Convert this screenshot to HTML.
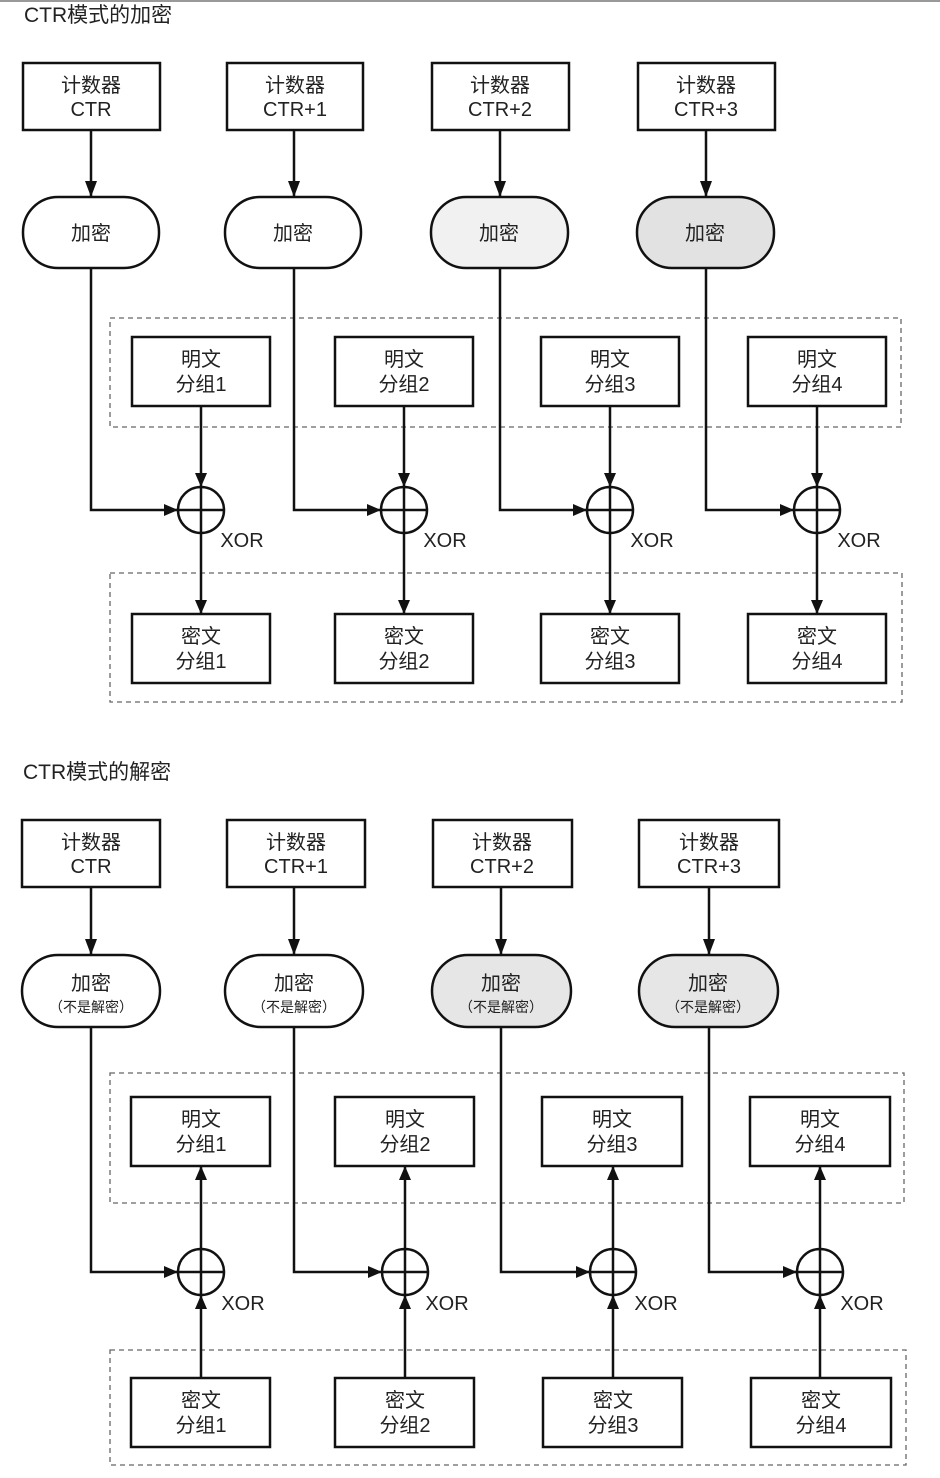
<!DOCTYPE html>
<html><head><meta charset="utf-8"><style>
html,body{margin:0;padding:0;background:#fff;}
svg{display:block;}
text{font-family:"Liberation Sans","Noto Sans CJK SC",sans-serif;fill:#222;}
</style></head><body>
<svg width="940" height="1478" viewBox="0 0 940 1478" xmlns="http://www.w3.org/2000/svg">
<defs>
<marker id="a" markerWidth="14" markerHeight="12" refX="13" refY="6" orient="auto" markerUnits="userSpaceOnUse">
<path d="M0,0 L14,6 L0,12 Z" fill="#111"/></marker>
<marker id="b" markerWidth="16" markerHeight="12" refX="15" refY="6" orient="auto" markerUnits="userSpaceOnUse">
<path d="M0,0 L16,6 L0,12 Z" fill="#111"/></marker>
</defs>
<rect x="0" y="0" width="940" height="2" fill="#999"/>
<g stroke="#111" stroke-width="2.5" fill="none">
<rect x="23" y="63" width="137" height="67"/>
<rect x="227" y="63" width="136" height="67"/>
<rect x="432" y="63" width="137" height="67"/>
<rect x="638" y="63" width="137" height="67"/>
<rect x="23" y="197" width="136" height="71" rx="35" fill="#fff"/>
<rect x="225" y="197" width="136" height="71" rx="35" fill="#fff"/>
<rect x="431" y="197" width="137" height="71" rx="35" fill="#f1f1f1"/>
<rect x="637" y="197" width="137" height="71" rx="35" fill="#e2e2e2"/>
<path d="M91,130 V196" marker-end="url(#b)"/>
<path d="M294,130 V196" marker-end="url(#b)"/>
<path d="M500,130 V196" marker-end="url(#b)"/>
<path d="M706,130 V196" marker-end="url(#b)"/>
<rect x="110" y="318" width="791" height="109" stroke="#666" stroke-width="1.3" stroke-dasharray="5,4"/>
<rect x="110" y="573" width="792" height="129" stroke="#666" stroke-width="1.3" stroke-dasharray="5,4"/>
<rect x="132" y="337" width="138" height="69" fill="#fff"/>
<rect x="335" y="337" width="138" height="69" fill="#fff"/>
<rect x="541" y="337" width="138" height="69" fill="#fff"/>
<rect x="748" y="337" width="138" height="69" fill="#fff"/>
<rect x="132" y="614" width="138" height="69"/>
<rect x="335" y="614" width="138" height="69"/>
<rect x="541" y="614" width="138" height="69"/>
<rect x="748" y="614" width="138" height="69"/>
<path d="M91,268 V510 H177" marker-end="url(#a)"/>
<path d="M294,268 V510 H380" marker-end="url(#a)"/>
<path d="M500,268 V510 H586" marker-end="url(#a)"/>
<path d="M706,268 V510 H793" marker-end="url(#a)"/>
<path d="M201,406 V486" marker-end="url(#a)"/>
<path d="M404,406 V486" marker-end="url(#a)"/>
<path d="M610,406 V486" marker-end="url(#a)"/>
<path d="M817,406 V486" marker-end="url(#a)"/>
<path d="M201,533 V613" marker-end="url(#a)"/>
<path d="M404,533 V613" marker-end="url(#a)"/>
<path d="M610,533 V613" marker-end="url(#a)"/>
<path d="M817,533 V613" marker-end="url(#a)"/>
<circle cx="201" cy="510" r="23"/><path d="M178,510 H224 M201,487 V533"/>
<circle cx="404" cy="510" r="23"/><path d="M381,510 H427 M404,487 V533"/>
<circle cx="610" cy="510" r="23"/><path d="M587,510 H633 M610,487 V533"/>
<circle cx="817" cy="510" r="23"/><path d="M794,510 H840 M817,487 V533"/>
<rect x="22" y="820" width="138" height="67"/>
<rect x="227" y="820" width="138" height="67"/>
<rect x="433" y="820" width="139" height="67"/>
<rect x="639" y="820" width="140" height="67"/>
<rect x="22" y="955" width="138" height="72" rx="36" fill="#fff"/>
<rect x="225" y="955" width="138" height="72" rx="36" fill="#fff"/>
<rect x="432" y="955" width="139" height="72" rx="36" fill="#e6e6e6"/>
<rect x="639" y="955" width="139" height="72" rx="36" fill="#e6e6e6"/>
<path d="M91,887 V954" marker-end="url(#b)"/>
<path d="M294,887 V954" marker-end="url(#b)"/>
<path d="M501,887 V954" marker-end="url(#b)"/>
<path d="M709,887 V954" marker-end="url(#b)"/>
<rect x="110" y="1073" width="794" height="130" stroke="#666" stroke-width="1.3" stroke-dasharray="5,4"/>
<rect x="110" y="1350" width="796" height="115" stroke="#666" stroke-width="1.3" stroke-dasharray="5,4"/>
<rect x="131" y="1097" width="139" height="69" fill="#fff"/>
<rect x="335" y="1097" width="139" height="69" fill="#fff"/>
<rect x="542" y="1097" width="140" height="69" fill="#fff"/>
<rect x="750" y="1097" width="140" height="69" fill="#fff"/>
<rect x="131" y="1378" width="139" height="69"/>
<rect x="335" y="1378" width="139" height="69"/>
<rect x="543" y="1378" width="139" height="69"/>
<rect x="751" y="1378" width="140" height="69"/>
<path d="M91,1027 V1272 H177" marker-end="url(#a)"/>
<path d="M294,1027 V1272 H381" marker-end="url(#a)"/>
<path d="M501,1027 V1272 H589" marker-end="url(#a)"/>
<path d="M709,1027 V1272 H796" marker-end="url(#a)"/>
<path d="M201,1249 V1167" marker-end="url(#a)"/>
<path d="M405,1249 V1167" marker-end="url(#a)"/>
<path d="M613,1249 V1167" marker-end="url(#a)"/>
<path d="M820,1249 V1167" marker-end="url(#a)"/>
<path d="M201,1378 V1296" marker-end="url(#a)"/>
<path d="M405,1378 V1296" marker-end="url(#a)"/>
<path d="M613,1378 V1296" marker-end="url(#a)"/>
<path d="M820,1378 V1296" marker-end="url(#a)"/>
<circle cx="201" cy="1272" r="23"/><path d="M178,1272 H224 M201,1249 V1295"/>
<circle cx="405" cy="1272" r="23"/><path d="M382,1272 H428 M405,1249 V1295"/>
<circle cx="613" cy="1272" r="23"/><path d="M590,1272 H636 M613,1249 V1295"/>
<circle cx="820" cy="1272" r="23"/><path d="M797,1272 H843 M820,1249 V1295"/>
</g>
<g font-size="20" text-anchor="middle">
<text x="24" y="22" text-anchor="start" font-size="21">CTR模式的加密</text>
<text x="91" y="92">计数器</text><text x="91" y="116">CTR</text>
<text x="295" y="92">计数器</text><text x="295" y="116">CTR+1</text>
<text x="500" y="92">计数器</text><text x="500" y="116">CTR+2</text>
<text x="706" y="92">计数器</text><text x="706" y="116">CTR+3</text>
<text x="91" y="240">加密</text><text x="293" y="240">加密</text><text x="499" y="240">加密</text><text x="705" y="240">加密</text>
<text x="201" y="366">明文</text><text x="201" y="391">分组1</text>
<text x="404" y="366">明文</text><text x="404" y="391">分组2</text>
<text x="610" y="366">明文</text><text x="610" y="391">分组3</text>
<text x="817" y="366">明文</text><text x="817" y="391">分组4</text>
<text x="201" y="643">密文</text><text x="201" y="668">分组1</text>
<text x="404" y="643">密文</text><text x="404" y="668">分组2</text>
<text x="610" y="643">密文</text><text x="610" y="668">分组3</text>
<text x="817" y="643">密文</text><text x="817" y="668">分组4</text>
<text x="242" y="547">XOR</text><text x="445" y="547">XOR</text><text x="652" y="547">XOR</text><text x="859" y="547">XOR</text>
<text x="23" y="779" text-anchor="start" font-size="21">CTR模式的解密</text>
<text x="91" y="849">计数器</text><text x="91" y="873">CTR</text>
<text x="296" y="849">计数器</text><text x="296" y="873">CTR+1</text>
<text x="502" y="849">计数器</text><text x="502" y="873">CTR+2</text>
<text x="709" y="849">计数器</text><text x="709" y="873">CTR+3</text>
<text x="91" y="990">加密</text><text x="294" y="990">加密</text><text x="501" y="990">加密</text><text x="708" y="990">加密</text>
<text x="201" y="1126">明文</text><text x="201" y="1151">分组1</text>
<text x="405" y="1126">明文</text><text x="405" y="1151">分组2</text>
<text x="612" y="1126">明文</text><text x="612" y="1151">分组3</text>
<text x="820" y="1126">明文</text><text x="820" y="1151">分组4</text>
<text x="201" y="1407">密文</text><text x="201" y="1432">分组1</text>
<text x="405" y="1407">密文</text><text x="405" y="1432">分组2</text>
<text x="613" y="1407">密文</text><text x="613" y="1432">分组3</text>
<text x="821" y="1407">密文</text><text x="821" y="1432">分组4</text>
<text x="243" y="1310">XOR</text><text x="447" y="1310">XOR</text><text x="656" y="1310">XOR</text><text x="862" y="1310">XOR</text>
</g>
<g font-size="14" text-anchor="middle">
<text x="91" y="1012">（不是解密）</text><text x="294" y="1012">（不是解密）</text><text x="501" y="1012">（不是解密）</text><text x="708" y="1012">（不是解密）</text>
</g>
</svg>
</body></html>
